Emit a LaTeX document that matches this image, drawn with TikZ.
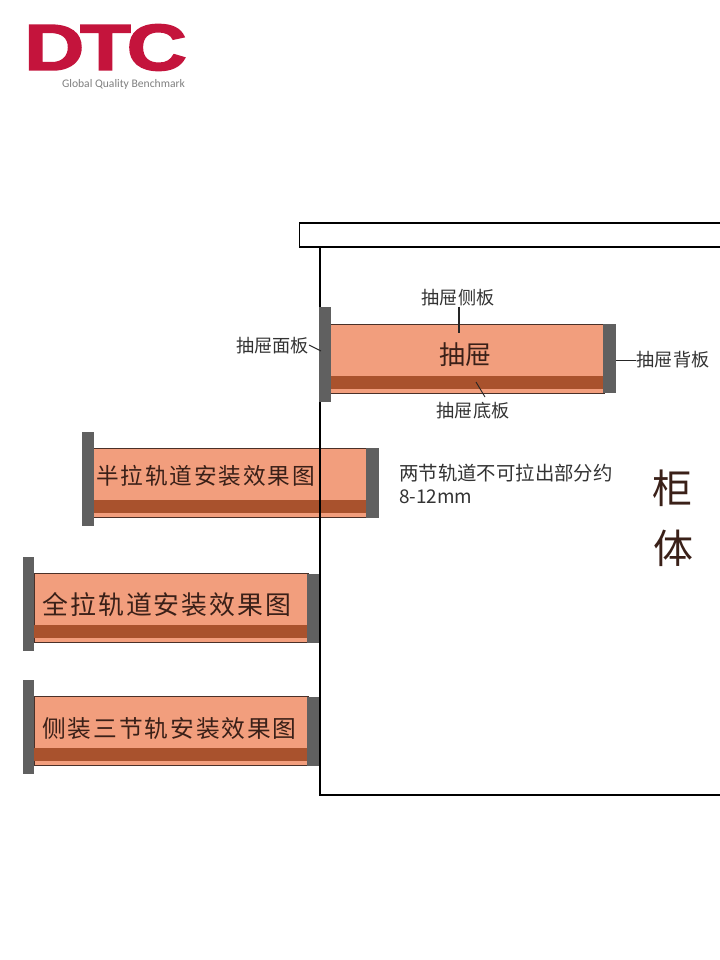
\documentclass[tikz,border=0pt]{standalone}
\usepackage{fontspec}
\setmainfont{Noto Sans CJK SC}
\newfontfamily\cjkwide[LetterSpace=8]{Noto Sans CJK SC}
\newfontfamily\logofont{Liberation Sans}
\newfontfamily\tagfont{Carlito}
\definecolor{bodyfill}{HTML}{F29E7D}
\definecolor{bandfill}{HTML}{A9522D}
\definecolor{panelgray}{HTML}{606060}
\definecolor{edgedark}{HTML}{4A3028}
\definecolor{inktext}{HTML}{3A2018}
\definecolor{labeltext}{HTML}{333333}
\definecolor{logored}{HTML}{C4143C}
\definecolor{taggray}{HTML}{808080}
\tikzset{
  x=0.75pt,y=-0.75pt,
  bodybox/.style={draw=edgedark,line width=0.6pt,fill=bodyfill,rectangle,inner sep=0,outer sep=0,anchor=north west,minimum width=274*0.75pt,minimum height=69*0.75pt},
  bandbox/.style={fill=bandfill,rectangle,inner sep=0,outer sep=0,anchor=north west,minimum width=273.6*0.75pt,minimum height=12.6*0.75pt},
  facebox/.style={fill=panelgray,rectangle,inner sep=0,outer sep=0,anchor=north west,minimum width=11.5*0.75pt,minimum height=94.5*0.75pt},
  backbox/.style={fill=panelgray,rectangle,inner sep=0,outer sep=0,anchor=north west,minimum width=12.4*0.75pt,minimum height=69.4*0.75pt},
  cabinetline/.style={draw=black,line width=1.25pt},
  leader/.style={draw=black!85,line width=0.7pt},
  partlabel/.style={text=labeltext,font=\fontsize{13.6pt}{15pt}\selectfont,inner sep=0},
  drawertext/.style={text=inktext,inner sep=0},
}
% #1 name prefix, #2 left x of face panel, #3 top y of face panel
\newcommand{\drawerunit}[3]{%
  \node[bodybox] (#1body) at (#2+11.5,#3+16.9) {};
  \node[bandbox] (#1band) at (#2+11.5,#3+68.6) {};
  \node[facebox] (#1face) at (#2,#3) {};
  \node[backbox] (#1back) at (#2+284.4,#3+16.7) {};
}
\begin{document}
\begin{tikzpicture}
\useasboundingbox (0,0) rectangle (720,960);
\fill[white] (0,0) rectangle (720,960);

% logo
\node[text=logored,inner sep=0,anchor=center,xscale=1.275] (logo) at (105.5,47.5) {\fontsize{49pt}{49pt}\logofont\bfseries\special{pdf:code 2 Tr 1.1 w}D\kern-2.5pt T\kern-2.5pt C\special{pdf:code 0 Tr}};
\node[text=taggray,inner sep=0,anchor=center] (tagline) at (123.5,84.5) {\fontsize{8.7pt}{10pt}\tagfont Global Quality Benchmark};

% cabinet top board
\node[draw=black,line width=1.25pt,fill=white,rectangle,inner sep=0,anchor=north west,minimum width=440*0.75pt,minimum height=24*0.75pt] (topboard) at (298.7,222) {};
\coordinate (cabtop) at (319.7,246);
\coordinate (cabbottom) at (319.7,795);
\coordinate (cabright) at (720,795);

% drawers under the cabinet line
\drawerunit{half}{82}{431.7}
\drawerunit{full}{22.5}{556.8}
\drawerunit{side}{22.5}{679.8}

\draw[cabinetline] (cabtop) -- (cabbottom) -- (cabright);

% top drawer
\drawerunit{top}{319}{307.3}

% texts in drawers
\node[drawertext,font=\fontsize{19.5pt}{22pt}\selectfont] (toptext) at (465.5,355) {抽屉};
\node[drawertext,anchor=west,font=\fontsize{17pt}{20pt}\cjkwide] (halftext) at (96,476) {半拉轨道安装效果图};
\node[drawertext,anchor=west,font=\fontsize{19.4pt}{22pt}\cjkwide] (fulltext) at (42,605) {全拉轨道安装效果图};
\node[drawertext,anchor=west,font=\fontsize{17.8pt}{20pt}\cjkwide] (sidetext) at (42,728) {侧装三节轨安装效果图};

% part labels
\node[partlabel] (lblside) at (458,298) {抽屉侧板};
\node[partlabel] (lblface) at (272.5,346) {抽屉面板};
\node[partlabel] (lblback) at (673,360) {抽屉背板};
\node[partlabel] (lblbottom) at (473,411) {抽屉底板};

\coordinate (sidetip) at (459,333);
\coordinate (facetip) at (321,351);
\coordinate (faceout) at (309,345);
\coordinate (backtip) at (616,360);
\coordinate (bottomtip) at (476,382);
\coordinate (bottomout) at (485,397);
\draw[leader,line width=1.1pt] (lblside.south -| sidetip) -- (sidetip);
\draw[leader] (faceout) -- (facetip);
\draw[leader] (lblback.west) -- (backtip);
\draw[leader] (bottomout) -- (bottomtip);

% notes
\node[text=labeltext,anchor=west,inner sep=0,font=\fontsize{14.55pt}{16pt}\selectfont] (note1) at (399,473) {两节轨道不可拉出部分约};
\node[text=labeltext,anchor=west,inner sep=0,font=\fontsize{14.2pt}{16pt}\selectfont] (note2) at (399,497) {8-12mm};

% cabinet label
\node[text=inktext,inner sep=0,font=\fontsize{30pt}{32pt}\selectfont] (gui) at (672,488) {柜};
\node[text=inktext,inner sep=0,font=\fontsize{30pt}{32pt}\selectfont] (ti) at (673,548) {体};
\end{tikzpicture}
\end{document}
